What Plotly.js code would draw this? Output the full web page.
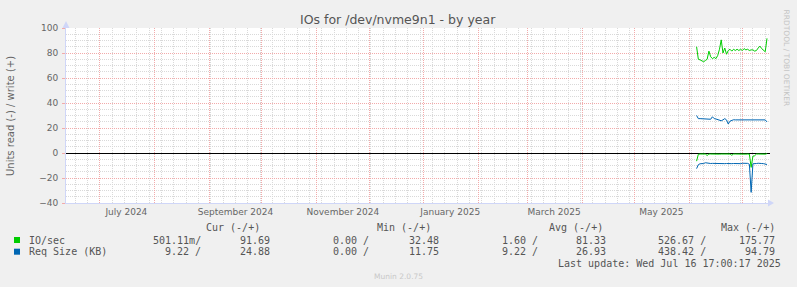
<!DOCTYPE html>
<html>
<head>
<meta charset="utf-8">
<script src="https://cdn.plot.ly/plotly-3.0.1.min.js"></script>
<style>
html,body{margin:0;padding:0;background:#F0F0F0;}
#chart{width:797px;height:287px;}
</style>
</head>
<body>
<div id="chart"></div>
<script>
// ---- data (daily averages) ----
const dates = ["2025-06-05","2025-06-06","2025-06-07","2025-06-08","2025-06-09","2025-06-10","2025-06-11","2025-06-12","2025-06-13","2025-06-14",
"2025-06-15","2025-06-16","2025-06-17","2025-06-18","2025-06-19","2025-06-20","2025-06-21","2025-06-22","2025-06-23","2025-06-24",
"2025-06-25","2025-06-26","2025-06-27","2025-06-28","2025-06-29","2025-06-30","2025-07-01","2025-07-02","2025-07-03","2025-07-04",
"2025-07-05","2025-07-06","2025-07-07","2025-07-08","2025-07-09","2025-07-10","2025-07-11","2025-07-12","2025-07-13","2025-07-14","2025-07-15"];

const ioWrite = [85, 75, 74.5, 73.5, 73, 74, 75, 81.5, 77, 75.5, 76.5, 75.5, 78, 83, 90.5, 80, 84, 79, 82, 83,
 81.5, 83, 82, 83, 82, 83, 82, 83.5, 82.5, 83, 82, 82.5, 82.5, 81.5, 82, 84, 85.5, 83.5, 82, 81, 91.69];
const ioRead = [-6.5, -1, -0.8, -0.9, -1, -0.8, -2, -0.8, -0.8, -0.9, -0.8, -0.8, -0.8, -0.9, -0.8, -0.8, -0.8, -0.9, -0.8, -0.8,
 -1.8, -0.8, -0.8, -0.9, -0.8, -0.8, -0.8, -0.8, -0.9, -0.8, -0.9, -11.5, -2.5, -2.2, -0.8, -0.8, -0.9, -0.8, -0.8, -0.9, -0.5];
const reqWrite = [30, 27.5, 27.5, 27.5, 27.5, 27.5, 27.5, 27.3, 27, 29, 27.5, 27.2, 26.8, 26.2, 25.8, 26.5, 27.5, 26.5, 23.2, 25.5,
 26.3, 26.6, 26.5, 26.5, 26.3, 26.6, 26.4, 26.4, 26.5, 26.5, 26.3, 26.4, 26.4, 26.8, 26.6, 26.4, 26.3, 26.4, 26.3, 26.5, 24.88];
const reqRead = [-12.5, -9.3, -8.6, -8.6, -8.4, -7.8, -8.2, -8.5, -8.4, -8.3, -8.4, -8.5, -8.5, -8.6, -8.5, -8.4, -8.5, -8.4, -8.6, -8.5,
 -8.5, -8.4, -8.5, -8.5, -8.6, -8.5, -8.2, -8.2, -8.4, -8.3, -9, -31.5, -8.6, -8.2, -8.4, -8.2, -8.6, -8.4, -8.5, -8.6, -9.22];

const xTickVals = ["2024-07-16","2024-09-16","2024-11-16","2025-01-16","2025-03-16","2025-05-16"];
const xTickText = ["July 2024","September 2024","November 2024","January 2025","March 2025","May 2025"];

const legendHeader = ["Cur (-/+)","Min (-/+)","Avg (-/+)","Max (-/+)"];
const seriesNames = ["IO/sec","Req Size (KB)"];
const seriesColors = ["#00CC00","#0066B3"];
const statsIO  = ["501.11m/","91.69","0.00 /","32.48","1.60 /","81.33","526.67 /","175.77"];
const statsReq = ["9.22 /","24.88","0.00 /","11.75","9.22 /","26.93","438.42 /","94.79"];

// ---- layout helpers (pixel -> paper) ----
const W = 797, H = 287;
const L = 66, R = 770, T = 28, B = 203;
const fx = px => (px - L) / (R - L);
const fy = py => (B - py) / (B - T);

const xRange = ["2024-06-11 17:00:17","2025-07-16 17:00:17"];

const traces = [
  {x: dates, y: ioRead,  xaxis:'x2', type:'scatter', mode:'lines', line:{color:seriesColors[0], width:1}, hoverinfo:'skip'},
  {x: dates, y: ioWrite, type:'scatter', mode:'lines', line:{color:seriesColors[0], width:1}, hoverinfo:'skip'},
  {x: dates, y: reqRead, xaxis:'x2', type:'scatter', mode:'lines', line:{color:seriesColors[1], width:1}, hoverinfo:'skip'},
  {x: dates, y: reqWrite,type:'scatter', mode:'lines', line:{color:seriesColors[1], width:1}, hoverinfo:'skip'}
];

const font = 'DejaVu Sans, sans-serif';
const mono = 'DejaVu Sans Mono, monospace';
const annotations = [];
function txt(text, px, py, anchor, opts){
  annotations.push(Object.assign({text:text, x:fx(px), y:fy(py), xref:'paper', yref:'paper',
    xanchor:anchor, yanchor:'middle', showarrow:false,
    font:{family:mono, size:10, color:'#555'}}, opts||{}));
}
// title
txt("IOs for /dev/nvme9n1 - by year", 398, 19, 'center', {font:{family:font, size:12.5, color:'#555'}});
// y title
txt("Units read (-) / write (+)", 10, 116, 'center', {textangle:-90, font:{family:font, size:10, color:'#666'}});
// rrdtool credit
txt("RRDTOOL / TOBI OETIKER", 786, 57.5, 'center', {textangle:90, font:{family:font, size:7.5, color:'#c4c4c4'}});
// legend header
const headerRight = [262.3, 433.3, 605, 776.7];
legendHeader.forEach((h,i)=>txt(h, headerRight[i], 227.3, 'right'));
const colRight = [203.3, 271.7, 371, 440.7, 540, 608.3, 708.3, 776.7];
const rowY = [240, 251.7];
[statsIO, statsReq].forEach((row, r) => {
  txt(seriesNames[r], 26.7, rowY[r], 'left');
  row.forEach((v,i)=>txt(v, colRight[i], rowY[r], 'right'));
});
txt("Last update: Wed Jul 16 17:00:17 2025", 782.7, 263.3, 'right');
txt("Munin 2.0.75", 398, 276.5, 'center', {font:{family:font, size:7.5, color:'#c8c8c8'}});

const shapes = [];
rowY.forEach((y,r)=>{
  shapes.push({type:'rect', xref:'paper', yref:'paper', x0:fx(14), x1:fx(20), y0:fy(y-3), y1:fy(y+3),
    fillcolor:seriesColors[r], line:{width:0}});
});
// axis arrows
const arrow = '#CFD6F8';
shapes.push({type:'path', xref:'paper', yref:'paper',
  path:`M ${fx(66)},${fy(21)} L ${fx(62.5)},${fy(28)} L ${fx(69.5)},${fy(28)} Z`, fillcolor:arrow, line:{width:0}});
shapes.push({type:'path', xref:'paper', yref:'paper',
  path:`M ${fx(774)},${fy(203)} L ${fx(768)},${fy(199.5)} L ${fx(768)},${fy(206.5)} Z`, fillcolor:arrow, line:{width:0}});

const layout = {
  width: W, height: H,
  margin: {l:L, r:W-R, t:T, b:H-B, pad:0},
  paper_bgcolor:'#F0F0F0', plot_bgcolor:'#FFFFFF',
  showlegend:false,
  xaxis: {type:'date', range:xRange, tickmode:'array', tickvals:xTickVals, ticktext:xTickText,
    showgrid:false, zeroline:false, showline:true, linecolor:'#CFD6F8', linewidth:1,
    ticks:'', tickfont:{family:font, size:9, color:'#666'}, fixedrange:true},
  xaxis2: {type:'date', range:xRange, overlaying:'x', showticklabels:false, ticks:'',
    tickmode:'linear', tick0:'2024-06-01', dtick:'M1',
    showgrid:true, gridcolor:'#F2AAAA', griddash:'1px,1px', gridwidth:1,
    minor:{tickmode:'linear', tick0:'2024-06-17', dtick:604800000, showgrid:true, gridcolor:'#D9D9D9', griddash:'1px,1px', gridwidth:1},
    zeroline:false, showline:false, fixedrange:true},
  yaxis: {range:[-40,100], tickmode:'linear', tick0:0, dtick:20,
    showgrid:true, gridcolor:'#F2AAAA', griddash:'1px,1px', gridwidth:1,
    minor:{tickmode:'linear', tick0:0, dtick:5, showgrid:true, gridcolor:'#D9D9D9', griddash:'1px,1px', gridwidth:1},
    zeroline:true, zerolinecolor:'#000000', zerolinewidth:1,
    showline:true, linecolor:'#CFD6F8', linewidth:1,
    ticks:'outside', ticklen:3, tickcolor:'#F2AAAA', ticklabelstandoff:2,
    tickfont:{family:font, size:9, color:'#666'}, fixedrange:true},
  annotations: annotations,
  shapes: shapes
};

Plotly.newPlot('chart', traces, layout, {displayModeBar:false, staticPlot:true});
</script>
</body>
</html>
